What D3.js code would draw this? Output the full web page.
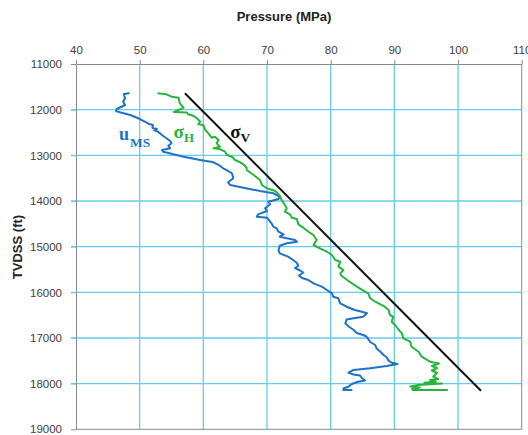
<!DOCTYPE html>
<html>
<head>
<meta charset="utf-8">
<script src="https://cdn.jsdelivr.net/npm/d3@7"></script>
<style>
  html, body { margin: 0; padding: 0; background: #fff; }
  svg { display: block; }
</style>
</head>
<body>
<svg id="chart" width="528" height="435"></svg>
<script>
// Pressure ticks (MPa) and depth ticks (ft, TVDSS)
const pressureTicks = [40, 50, 60, 70, 80, 90, 100, 110];
const depthTicks = [11000, 12000, 13000, 14000, 15000, 16000, 17000, 18000, 19000];

// Minimum stress from microseismic analysis, u_MS: [pressure MPa, depth ft]
const uMS = [
  [48.4,11635],[47.5,11664],[47.7,11751],[47.4,11826],[47.7,11898],[46.4,11986],[46.3,12029],
  [46.9,12058],[48.5,12117],[49.8,12189],[50.8,12264],[51.6,12321],[52.1,12336],[52.0,12395],
  [52.7,12424],[52.3,12452],[52.9,12483],[53.5,12555],[54.2,12627],[54.8,12686],[55.0,12737],
  [54.5,12789],[54.8,12846],[53.5,12883],[53.7,12921],[56.9,13030],[59.5,13102],[61.6,13153],
  [62.6,13227],[63.1,13284],[63.9,13343],[64.5,13394],[64.7,13503],[63.9,13591],[64.2,13650],
  [66.3,13709],[68.9,13781],[71.0,13832],[72.0,13906],[71.8,13957],[70.2,14016],[70.5,14073],
  [69.7,14160],[70.0,14219],[68.6,14292],[68.4,14344],[70.0,14366],[70.7,14489],[71.0,14563],
  [71.5,14598],[71.8,14673],[72.6,14730],[72.0,14782],[73.1,14817],[74.4,14854],[74.7,14892],
  [73.1,14927],[72.0,14979],[71.8,15073],[72.0,15146],[73.3,15220],[74.1,15292],[74.7,15358],
  [74.9,15424],[74.4,15468],[75.2,15522],[75.7,15566],[75.0,15632],[75.5,15687],[76.5,15730],
  [77.3,15803],[78.6,15877],[79.4,15949],[80.2,16022],[80.4,16096],[81.2,16131],[81.5,16241],
  [82.5,16315],[83.8,16387],[84.9,16425],[85.7,16460],[85.1,16534],[83.6,16569],[82.5,16595],
  [82.3,16683],[82.9,16753],[83.6,16825],[84.1,16891],[85.1,16935],[85.6,16968],[85.9,17023],
  [86.2,17088],[87.0,17154],[87.2,17226],[87.8,17301],[88.3,17373],[88.8,17423],[89.1,17498],
  [89.6,17542],[90.5,17570],[88.8,17614],[86.2,17664],[83.6,17701],[82.8,17761],[83.6,17800],
  [84.6,17822],[84.9,17877],[85.4,17931],[84.3,17958],[83.3,18008],[82.8,18067],[82.0,18107],
  [82.0,18139],[83.4,18140]
];

// Maximum horizontal stress, sigma_H: [pressure MPa, depth ft]
const sigmaH = [
  [52.8,11642],[54.2,11664],[55.0,11716],[56.1,11738],[56.3,11861],[56.9,11957],[55.4,12051],
  [57.4,12062],[57.6,12102],[58.4,12132],[59.0,12189],[59.5,12264],[59.2,12321],[60.0,12336],
  [60.3,12445],[60.8,12518],[61.3,12614],[61.8,12592],[62.4,12664],[62.1,12737],[62.6,12811],
  [61.6,12846],[62.6,12862],[63.4,12921],[63.7,12993],[64.5,13030],[65.0,13102],[65.8,13153],
  [66.3,13197],[66.8,13271],[66.8,13321],[67.9,13431],[68.9,13540],[69.2,13650],[70.0,13722],
  [71.3,13781],[72.0,13884],[72.3,13978],[72.8,14088],[73.1,14160],[72.8,14235],[73.6,14292],
  [73.9,14366],[74.7,14395],[74.9,14511],[75.7,14585],[76.5,14673],[77.3,14745],[77.8,14854],
  [77.3,14964],[78.3,15036],[79.4,15111],[80.2,15183],[80.7,15292],[81.5,15330],[81.2,15439],
  [82.0,15511],[81.5,15584],[81.7,15636],[82.8,15752],[84.1,15877],[85.4,15987],[85.9,16022],
  [86.2,16131],[87.0,16206],[88.5,16315],[89.1,16387],[89.3,16497],[89.8,16534],[89.6,16644],
  [90.1,16716],[90.7,16825],[91.2,16898],[91.4,17007],[92.5,17082],[92.7,17191],[93.8,17301],
  [94.3,17410],[95.6,17520],[97.0,17559],[95.9,17614],[96.7,17658],[95.9,17712],[96.7,17767],
  [96.1,17844],[96.9,17899],[95.6,17920],[96.5,17958],[94.7,17980],[97.5,17997],[93.7,18030],
  [92.5,18063],[94.0,18085],[92.8,18118],[92.9,18140],[98.4,18140]
];

// Vertical (overburden) stress, sigma_V: [pressure MPa, depth ft]
const sigmaV = [[57.1,11640],[103.6,18155]];

const svg = d3.select("#chart");
const plot = { left: 76, right: 521.7, top: 64, bottom: 429.3 };

const x = d3.scaleLinear().domain([40, 110]).range([plot.left, plot.right]);
const y = d3.scaleLinear().domain([11000, 19000]).range([plot.top, plot.bottom]);

const gridColor = "#66cbf2";
const axisColor = "#8a8a8a";
const labelColor = "#404040";

// Gridlines
svg.append("g")
  .selectAll("line.vg")
  .data(pressureTicks.slice(1, -1))
  .join("line")
  .attr("x1", d => x(d)).attr("x2", d => x(d))
  .attr("y1", plot.top).attr("y2", plot.bottom)
  .attr("stroke", gridColor).attr("stroke-width", 1.3);

svg.append("g")
  .selectAll("line.hg")
  .data(depthTicks.slice(1, -1))
  .join("line")
  .attr("x1", plot.left - 5).attr("x2", plot.right)
  .attr("y1", d => y(d)).attr("y2", d => y(d))
  .attr("stroke", gridColor).attr("stroke-width", 1.3);

// Top pressure axis
const topAxis = svg.append("g")
  .attr("transform", `translate(0,${plot.top})`)
  .call(d3.axisTop(x).tickValues(pressureTicks).tickSizeInner(4).tickSizeOuter(0).tickPadding(6));
topAxis.select(".domain").attr("stroke", axisColor);
topAxis.selectAll(".tick line").attr("stroke", axisColor);
topAxis.selectAll(".tick text")
  .attr("fill", labelColor)
  .style("font", "11.5px 'Liberation Sans', Arial, sans-serif");

// Left depth axis
const leftAxis = svg.append("g")
  .attr("transform", `translate(${plot.left},0)`)
  .call(d3.axisLeft(y).tickValues(depthTicks).tickFormat(d3.format("d"))
    .tickSizeInner(5).tickSizeOuter(0).tickPadding(9));
leftAxis.select(".domain").attr("stroke", axisColor);
leftAxis.selectAll(".tick line")
  .attr("stroke", d => (d === 11000 || d === 19000) ? axisColor : gridColor);
leftAxis.selectAll(".tick text")
  .attr("fill", labelColor)
  .style("font", "11.5px 'Liberation Sans', Arial, sans-serif");

// Right and bottom frame
svg.append("line")
  .attr("x1", plot.right).attr("x2", plot.right)
  .attr("y1", plot.top).attr("y2", plot.bottom)
  .attr("stroke", axisColor);
svg.append("line")
  .attr("x1", plot.left).attr("x2", plot.right)
  .attr("y1", plot.bottom).attr("y2", plot.bottom)
  .attr("stroke", axisColor);

// Axis titles
svg.append("text")
  .attr("x", 284).attr("y", 21)
  .attr("text-anchor", "middle")
  .attr("fill", "#222")
  .style("font", "bold 13px 'Liberation Sans', Arial, sans-serif")
  .text("Pressure (MPa)");

svg.append("text")
  .attr("transform", "translate(22,247) rotate(-90)")
  .attr("text-anchor", "middle")
  .attr("fill", "#222")
  .style("font", "bold 13px 'Liberation Sans', Arial, sans-serif")
  .text("TVDSS (ft)");

// Stress profiles
const line = d3.line().x(d => x(d[0])).y(d => y(d[1]));

svg.append("path").datum(uMS)
  .attr("d", line).attr("fill", "none")
  .attr("stroke", "#1f72c6").attr("stroke-width", 2).attr("stroke-linejoin", "round");

svg.append("path").datum(sigmaH)
  .attr("d", line).attr("fill", "none")
  .attr("stroke", "#25b53a").attr("stroke-width", 2).attr("stroke-linejoin", "round");

svg.append("path").datum(sigmaV)
  .attr("d", line).attr("fill", "none")
  .attr("stroke", "#111").attr("stroke-width", 2);

// Curve labels
const serif = "'Liberation Serif', 'Times New Roman', serif";
function label(parts, color) {
  parts.forEach(p => {
    svg.append("text")
      .attr("x", p.x).attr("y", p.y)
      .attr("fill", color)
      .style("font", `bold ${p.size}px ${serif}`)
      .text(p.t);
  });
}
label([{ t: "u", x: 119, y: 139.5, size: 18 }, { t: "MS", x: 130, y: 146.8, size: 13.5 }], "#1f72c6");
label([{ t: "σ", x: 173.5, y: 137.8, size: 19 }, { t: "H", x: 184, y: 141.8, size: 13 }], "#25b53a");
label([{ t: "σ", x: 230.3, y: 138.4, size: 19 }, { t: "V", x: 240.5, y: 141.8, size: 13.5 }], "#111");
</script>
</body>
</html>
